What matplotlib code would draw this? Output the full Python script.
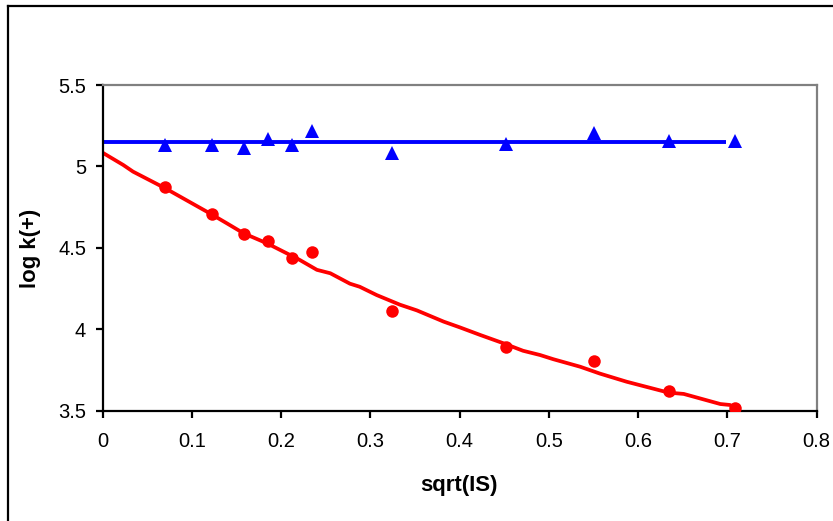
import matplotlib
matplotlib.use("Agg")
import matplotlib.pyplot as plt
from matplotlib.lines import Line2D

plt.rcParams['font.family'] = ['Liberation Sans', 'DejaVu Sans']

# measured ionic strength (square root) shared by both series
sqrt_is = [0.070, 0.122, 0.158, 0.185, 0.212, 0.234, 0.324, 0.452, 0.550, 0.635, 0.709]
# log k(+) for the two series
logk_blue = [5.133, 5.133, 5.116, 5.170, 5.133, 5.219, 5.084, 5.135, 5.205, 5.158, 5.158]
logk_red = [4.876, 4.706, 4.583, 4.544, 4.436, 4.473, 4.114, 3.893, 3.807, 3.623, 3.515]

# constant fit for the blue series
blue_fit_x = [0.0, 0.698]
blue_fit_y = [5.152, 5.152]

# model curve for the red series
red_fit_x = [0.0, 0.023, 0.034, 0.070, 0.120, 0.139, 0.158, 0.184, 0.210, 0.221,
             0.240, 0.255, 0.277, 0.288, 0.307, 0.333, 0.352, 0.382, 0.400, 0.423,
             0.449, 0.471, 0.490, 0.505, 0.535, 0.557, 0.587, 0.634, 0.651, 0.692, 0.703]
red_fit_y = [5.084, 5.009, 4.968, 4.866, 4.712, 4.651, 4.589, 4.528, 4.456, 4.425,
             4.365, 4.344, 4.280, 4.261, 4.210, 4.151, 4.116, 4.047, 4.012, 3.965,
             3.914, 3.868, 3.842, 3.816, 3.770, 3.728, 3.678, 3.611, 3.603, 3.541, 3.535]

x_ticks = [0, 0.1, 0.2, 0.3, 0.4, 0.5, 0.6, 0.7, 0.8]
x_ticklabels = ['0', '0.1', '0.2', '0.3', '0.4', '0.5', '0.6', '0.7', '0.8']
y_ticks = [3.5, 4, 4.5, 5, 5.5]
y_ticklabels = ['3.5', '4', '4.5', '5', '5.5']

W, H = 833, 521
fig = plt.figure(figsize=(W / 100, H / 100), dpi=100)
ax = fig.add_axes([102.7 / W, 1 - 410.7 / H, (816.7 - 102.7) / W, (410.7 - 85) / H])

ax.plot(blue_fit_x, blue_fit_y, color='#0000FF', lw=2.8, solid_capstyle='butt', zorder=2)
ax.plot(red_fit_x, red_fit_y, color='#FF0000', lw=2.7, solid_capstyle='round', zorder=2)
ax.plot(sqrt_is, logk_blue, linestyle='none', marker='^', ms=10, color='#0000FF',
        markeredgewidth=0, zorder=3)
ax.plot(sqrt_is, logk_red, linestyle='none', marker='o', ms=9, color='#FF0000',
        markeredgewidth=0, zorder=3)

ax.set_xlim(0, 0.8)
ax.set_ylim(3.5, 5.5)
ax.set_xticks(x_ticks)
ax.set_xticklabels(x_ticklabels)
ax.set_yticks(y_ticks)
ax.set_yticklabels(y_ticklabels)

for side in ('left', 'bottom'):
    ax.spines[side].set_color('black')
    ax.spines[side].set_linewidth(1.6)
for side in ('top', 'right'):
    ax.spines[side].set_color('#808080')
    ax.spines[side].set_linewidth(1.6)

ax.tick_params(axis='both', direction='out', length=5, width=1.6, color='black',
               labelsize=14.5, labelcolor='black')
ax.tick_params(axis='y', pad=7)
ax.tick_params(axis='x', pad=10)

fig.text(458.7 / W, 1 - 486 / H, 'sqrt(IS)', ha='center', va='center',
         fontsize=16, fontweight='bold')
fig.text(31 / W, 1 - 248 / H, 'log k(+)', ha='center', va='center',
         rotation=90, fontsize=16, fontweight='bold')

# outer chart frame (left and top edges)
fig.add_artist(Line2D([7.5 / W, 7.5 / W], [0, 1 - 5.5 / H], color='black', lw=1.6,
                      transform=fig.transFigure))
fig.add_artist(Line2D([7.5 / W, 1], [1 - 5.5 / H, 1 - 5.5 / H], color='black', lw=1.6,
                      transform=fig.transFigure))

fig.savefig('out.png', dpi=100)
